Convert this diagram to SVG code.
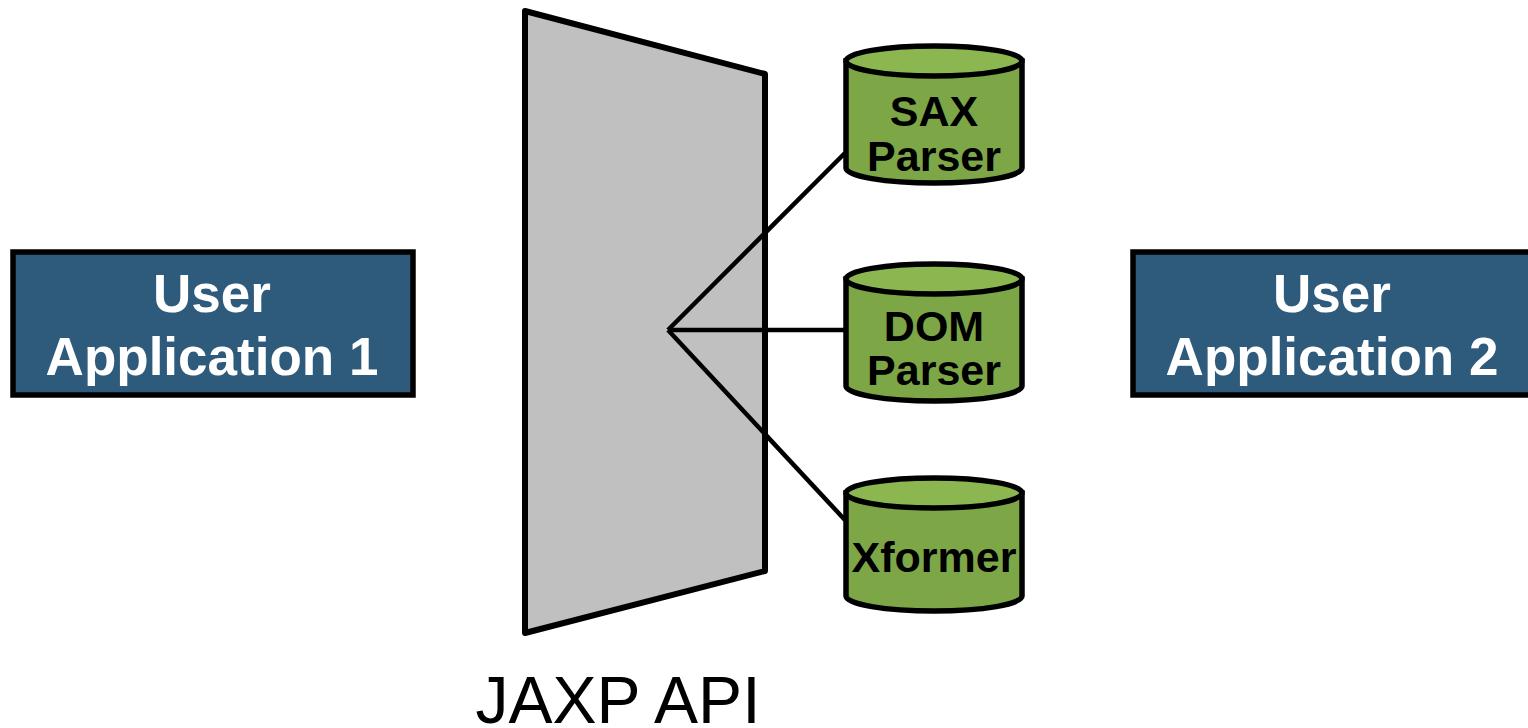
<svg xmlns="http://www.w3.org/2000/svg" width="1528" height="728" viewBox="0 0 1528 728">
  <style>
    .app { fill: #2E5B7B; stroke: #000; stroke-width: 5.5; }
    .app-text { font-family: "Liberation Sans", Arial, sans-serif; font-weight: bold; font-size: 53px; fill: #fff; text-anchor: middle; }
    .api { fill: #C0C0C0; stroke: #000; stroke-width: 6; stroke-linejoin: round; }
    .api-label { font-family: "Liberation Sans", Arial, sans-serif; font-size: 66px; fill: #000; text-anchor: middle; }
    .cyl-body { fill: #7DA747; stroke: #000; stroke-width: 5.5; }
    .cyl-top { fill: #8BB650; stroke: #000; stroke-width: 5.5; }
    .cyl-text { font-family: "Liberation Sans", Arial, sans-serif; font-weight: bold; font-size: 43px; fill: #000; text-anchor: middle; }
    .link { stroke: #000; stroke-width: 4.5; fill: none; }
  </style>

  <rect width="1528" height="728" fill="#fff"/>

  <!-- JAXP API plane -->
  <g id="jaxp-api">
    <polygon class="api" points="525,11 765,74 765,571 525,633"/>
    <text class="api-label" x="618" y="723">JAXP API</text>
  </g>

  <!-- connectors from the API hub to each implementation -->
  <g id="connectors">
    <line class="link" x1="668" y1="330" x2="845" y2="153"/>
    <line class="link" x1="668" y1="330" x2="845" y2="330"/>
    <line class="link" x1="668" y1="330" x2="845" y2="520"/>
  </g>

  <!-- applications -->
  <g id="user-app-1">
    <rect class="app" x="13" y="252" width="400" height="143"/>
    <text class="app-text" x="212" y="312">User</text>
    <text class="app-text" x="212" y="375">Application 1</text>
  </g>

  <g id="user-app-2">
    <rect class="app" x="1133" y="252" width="400" height="143"/>
    <text class="app-text" x="1332" y="312">User</text>
    <text class="app-text" x="1332" y="375">Application 2</text>
  </g>

  <!-- parser cylinders -->
  <g id="sax-parser">
    <path class="cyl-body" d="M846,61 L846,168 A88,15 0 0 0 1022,168 L1022,61 Z"/>
    <ellipse class="cyl-top" cx="934" cy="61" rx="88" ry="15"/>
    <text class="cyl-text" x="934" y="126">SAX</text>
    <text class="cyl-text" x="934" y="171">Parser</text>
  </g>

  <g id="dom-parser">
    <path class="cyl-body" d="M846,279 L846,386 A88,15 0 0 0 1022,386 L1022,279 Z"/>
    <ellipse class="cyl-top" cx="934" cy="279" rx="88" ry="15"/>
    <text class="cyl-text" x="934" y="341">DOM</text>
    <text class="cyl-text" x="934" y="385">Parser</text>
  </g>

  <g id="xformer">
    <path class="cyl-body" d="M846,493 L846,596 A88,15 0 0 0 1022,596 L1022,493 Z"/>
    <ellipse class="cyl-top" cx="934" cy="493" rx="88" ry="15"/>
    <text class="cyl-text" x="934" y="572">Xformer</text>
  </g>
</svg>
